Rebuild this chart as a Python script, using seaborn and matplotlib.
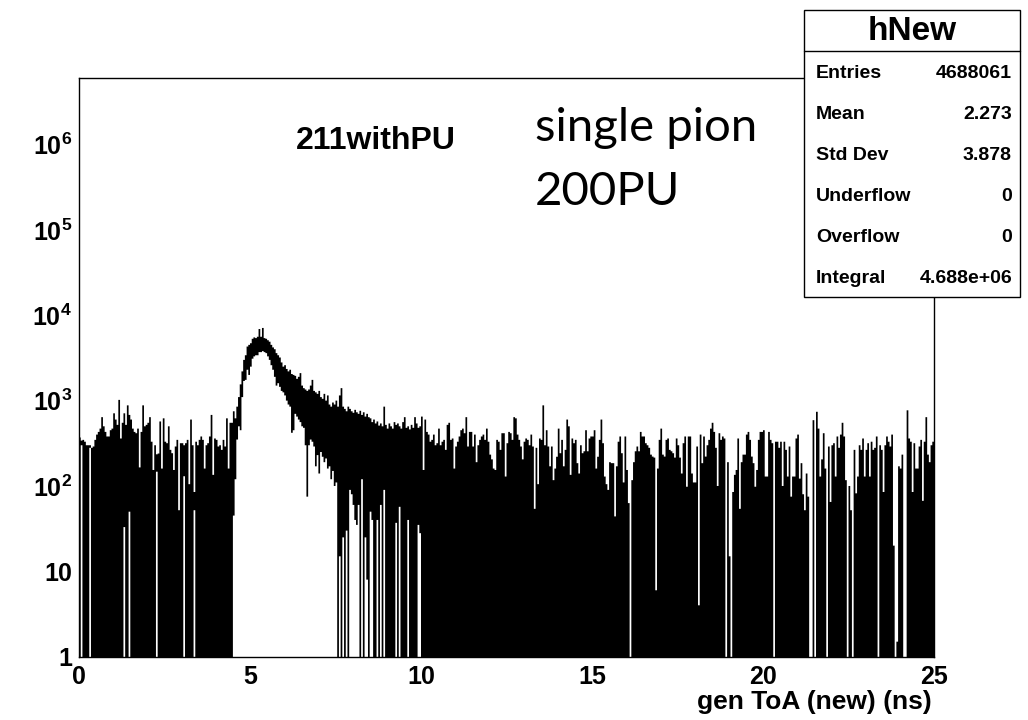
import numpy as np
import pandas as pd
import matplotlib
matplotlib.use("Agg")
import matplotlib.pyplot as plt
import matplotlib.patches as mpatches
import matplotlib.lines as mlines
from matplotlib.ticker import FixedLocator, FixedFormatter, MultipleLocator, LogLocator, NullFormatter
import seaborn as sns

# ---------------- data ----------------
x_range = (0.0, 25.0)
bin_width = 0.05

# highest count reached in each 0.05 ns bin
upper_0_to_4p5 = [
    370, 340, 347, 330, 300, 300, 300, 280, 290, 347,
    400, 430, 470, 640, 500, 430, 380, 380, 450, 470,
    710, 600, 520, 1020, 360, 550, 710, 520, 880, 680,
    600, 470, 430, 415, 470, 165, 430, 880, 500, 520,
    550, 640, 330, 154, 300, 235, 240, 570, 160, 620,
    330, 317, 500, 265, 242, 154, 290, 347, 52, 317,
    317, 300, 317, 347, 105, 600, 300, 85, 330, 300,
    347, 380, 347, 160, 300, 317, 380, 680, 135, 360,
    347, 290, 300, 265, 347, 290, 620, 160, 550, 550]
upper_4p5_to_10 = [
    750, 620, 850, 1100, 1550, 2200, 3000, 3400, 4300, 4500,
    4700, 5300, 5500, 5400, 5600, 6900, 5600, 7100, 5400, 5300,
    5100, 4900, 4500, 4200, 4000, 3600, 3400, 3200, 2800, 2500,
    2600, 2350, 2200, 2300, 2050, 2000, 1950, 1800, 1900, 2100,
    1500, 1400, 1350, 1300, 1350, 1500, 1750, 1300, 1250, 1200,
    1300, 1100, 1050, 1200, 1000, 1150, 900, 850, 950, 900,
    1000, 850, 1150, 1400, 850, 800, 750, 850, 800, 750,
    720, 780, 730, 700, 760, 680, 730, 650, 700, 640,
    620, 560, 600, 540, 570, 510, 540, 500, 850, 520,
    470, 540, 500, 470, 560, 520, 540, 500, 470, 560,
    640, 480, 500, 460, 520, 480, 640, 540, 480, 500]
upper_10_to_15 = [
    650, 154, 600, 430, 400, 330, 347, 400, 300, 317,
    470, 300, 330, 347, 265, 520, 550, 347, 360, 160,
    290, 330, 380, 450, 470, 415, 640, 290, 430, 430,
    290, 400, 190, 300, 347, 380, 400, 347, 470, 330,
    233, 205, 160, 154, 347, 330, 265, 415, 415, 129,
    317, 430, 415, 347, 640, 620, 400, 347, 290, 205,
    330, 360, 347, 300, 400, 290, 54, 280, 105, 360,
    347, 880, 300, 450, 290, 170, 290, 117, 160, 220,
    470, 242, 347, 170, 265, 600, 500, 135, 360, 317,
    347, 185, 140, 300, 242, 255, 450, 255, 360, 380]
upper_15_to_20 = [
    380, 450, 160, 220, 347, 600, 317, 129, 105, 90,
    190, 185, 185, 44, 170, 330, 380, 242, 110, 380,
    154, 63, 0, 117, 190, 255, 290, 255, 430, 380,
    380, 317, 300, 280, 233, 221, 215, 6, 160, 347,
    470, 233, 221, 347, 360, 265, 255, 242, 215, 360,
    300, 215, 140, 317, 380, 98, 380, 380, 140, 110,
    110, 290, 4, 400, 185, 380, 221, 300, 347, 470,
    550, 430, 280, 100, 415, 347, 380, 360, 0, 190,
    15, 0, 85, 135, 154, 360, 54, 190, 233, 233,
    400, 430, 347, 221, 185, 98, 154, 347, 430, 430]
upper_20_to_25 = [
    450, 129, 129, 430, 347, 317, 0, 330, 330, 280,
    330, 100, 330, 265, 129, 290, 75, 129, 129, 360,
    400, 122, 185, 80, 52, 140, 75, 0, 0, 590,
    0, 740, 470, 129, 205, 415, 160, 0, 290, 65,
    300, 317, 129, 380, 280, 400, 550, 380, 117, 0,
    100, 52, 0, 265, 82, 129, 300, 265, 360, 129,
    265, 317, 129, 330, 265, 280, 380, 0, 300, 265,
    85, 300, 380, 330, 290, 400, 20, 0, 1.5, 170,
    160, 233, 0, 0, 770, 360, 330, 85, 317, 160,
    160, 290, 347, 67, 330, 640, 233, 190, 300, 330]

# lowest count in each bin of the signal peak (white below it)
peak_first_bin = 90
lower_4p5_to_10 = [
    45, 120, 350, 500, 450, 1100, 1700, 1750, 2300, 2000,
    2500, 3100, 3300, 3400, 3400, 3700, 3700, 3800, 3700, 3600,
    3300, 3000, 2600, 2300, 1900, 1500, 1600, 1450, 1300, 1250,
    1150, 1000, 900, 850, 420, 450, 700, 650, 600, 560,
    500, 480, 300, 75, 300, 350, 330, 290, 170, 230,
    140, 250, 220, 190, 210, 160, 170, 120, 150, 100,
    110, 0, 15, 0, 25, 0, 30, 0, 90, 80,
    60, 40, 35, 60, 0, 120, 0, 25, 8, 0,
    50, 40, 0, 0, 40, 0, 60, 0, 90, 0,
    0, 0, 0, 0, 0, 37, 0, 57, 0, 0,
    0, 0, 40, 0, 0, 0, 0, 0, 35, 28]

# isolated background bins whose lowest count is above 1
stripe_bins = [1, 6, 26, 29, 45, 61, 67]
stripe_lower = [300, 280, 33, 50, 147, 130, 52]

hist_title = "hNew"
stats_labels = ["Entries", "Mean", "Std Dev", "Underflow", "Overflow", "Integral"]
stats_values = ["4688061", "2.273", "3.878", "0", "0", "4.688e+06"]
sample_label = "211withPU"
note_lines = ["single pion", "200PU"]
x_label = "gen ToA (new) (ns)"
x_ticks = [0, 5, 10, 15, 20, 25]
x_tick_labels = ["0", "5", "10", "15", "20", "25"]
y_ticks = [1, 10, 100, 1e3, 1e4, 1e5, 1e6]
y_tick_labels = ["1", "10", "$10^{2}$", "$10^{3}$", "$10^{4}$", "$10^{5}$", "$10^{6}$"]
y_top = 6.1e6

# ---------------- assemble ----------------
upper = np.array(upper_0_to_4p5 + upper_4p5_to_10 + upper_10_to_15
                 + upper_15_to_20 + upper_20_to_25, dtype=float)
n_bins = len(upper)
edges = np.linspace(x_range[0], x_range[1], n_bins + 1)
centers = 0.5 * (edges[:-1] + edges[1:])
lower = np.zeros(n_bins)
lower[peak_first_bin:peak_first_bin + len(lower_4p5_to_10)] = lower_4p5_to_10
lower[stripe_bins] = stripe_lower
df = pd.DataFrame({"toa": centers, "upper": upper, "lower": lower})

# ---------------- style ----------------
sns.set_theme(style="white")
plt.rcParams["font.family"] = ["Liberation Sans", "DejaVu Sans"]
plt.rcParams["text.color"] = "black"
plt.rcParams["axes.labelcolor"] = "black"
plt.rcParams["xtick.color"] = "black"
plt.rcParams["ytick.color"] = "black"
plt.rcParams["mathtext.fontset"] = "custom"
plt.rcParams["mathtext.rm"] = "Liberation Sans:bold"
plt.rcParams["mathtext.bf"] = "Liberation Sans:bold"
plt.rcParams["mathtext.it"] = "Liberation Sans:bold"
plt.rcParams["mathtext.default"] = "rm"

W, H = 1028, 720
fig = plt.figure(figsize=(W / 100, H / 100), dpi=100)
fig.patch.set_facecolor("white")
ax_l, ax_r, ax_t, ax_b = 79, 934, 77.5, 656.7
ax = fig.add_axes([ax_l / W, 1 - ax_b / H, (ax_r - ax_l) / W, (ax_b - ax_t) / H])
ax.set_facecolor("white")

sns.histplot(data=df, x="toa", weights="upper", bins=n_bins, binrange=x_range,
             element="step", fill=True, color="black", alpha=1.0, linewidth=0, ax=ax)
sns.histplot(data=df, x="toa", weights="lower", bins=n_bins, binrange=x_range,
             element="step", fill=True, color="white", alpha=1.0, linewidth=0, ax=ax)

ax.set_yscale("log")
ax.set_xlim(*x_range)
ax.set_ylim(1, y_top)
ax.set_ylabel("")

for s in ax.spines.values():
    s.set_visible(True)
    s.set_color("black")
    s.set_linewidth(1.0)

ax.xaxis.set_major_locator(FixedLocator(x_ticks))
ax.xaxis.set_major_formatter(FixedFormatter(x_tick_labels))
ax.xaxis.set_minor_locator(MultipleLocator(1))
ax.yaxis.set_major_locator(FixedLocator(y_ticks))
ax.yaxis.set_major_formatter(FixedFormatter(y_tick_labels))
ax.yaxis.set_minor_locator(LogLocator(base=10, subs=np.arange(2, 10), numticks=20))
ax.yaxis.set_minor_formatter(NullFormatter())

ax.tick_params(axis="both", which="both", direction="in", top=False, right=False,
               width=0.8, colors="black", labelcolor="black")
ax.tick_params(axis="y", which="major", length=19, pad=5, labelsize=18)
ax.tick_params(axis="y", which="minor", length=10)
ax.tick_params(axis="x", which="major", length=12, pad=6, labelsize=18)
ax.tick_params(axis="x", which="minor", length=6.5)
for lbl in ax.get_xticklabels() + ax.get_yticklabels():
    lbl.set_fontweight("bold")

ax.set_xlabel(x_label, fontsize=19, fontweight="bold", ha="right", color="black")
ax.xaxis.set_label_coords(0.997, -0.058)

def fy(y):
    return 1 - y / H

fig.text(376 / W, fy(141), sample_label, fontsize=23, fontweight="bold",
         color="black", ha="center", va="center")
fig.text(535 / W, fy(141), note_lines[0], fontsize=34, family=["Lato", "DejaVu Sans"],
         fontweight="normal", color="black", ha="left", va="baseline")
fig.text(535 / W, fy(205), note_lines[1], fontsize=34, family=["Lato", "DejaVu Sans"],
         fontweight="normal", color="black", ha="left", va="baseline")

# statistics box
bx0, bx1, by0, by1, bsep = 804, 1020, 10, 297, 51
fig.add_artist(mpatches.Rectangle((bx0 / W, fy(by1)), (bx1 - bx0) / W, (by1 - by0) / H,
                                  transform=fig.transFigure, facecolor="white",
                                  edgecolor="black", linewidth=1.0, zorder=5))
fig.add_artist(mlines.Line2D([bx0 / W, bx1 / W], [fy(bsep), fy(bsep)],
                             transform=fig.transFigure, color="black", linewidth=1.0, zorder=6))
fig.text((bx0 + bx1) / 2 / W, fy((by0 + bsep) / 2 + 1), hist_title, fontsize=24,
         fontweight="bold", color="black", ha="center", va="center", zorder=7)
row_h = (by1 - bsep) / len(stats_labels)
for k, (lab, val) in enumerate(zip(stats_labels, stats_values)):
    yc = bsep + row_h * (k + 0.5) + 2
    fig.text(816 / W, fy(yc), lab, fontsize=14, fontweight="bold", color="black",
             ha="left", va="center", zorder=7)
    fig.text(1012 / W, fy(yc), val, fontsize=14, fontweight="bold", color="black",
             ha="right", va="center", zorder=7)

fig.savefig("out.png", dpi=100, facecolor="white")
